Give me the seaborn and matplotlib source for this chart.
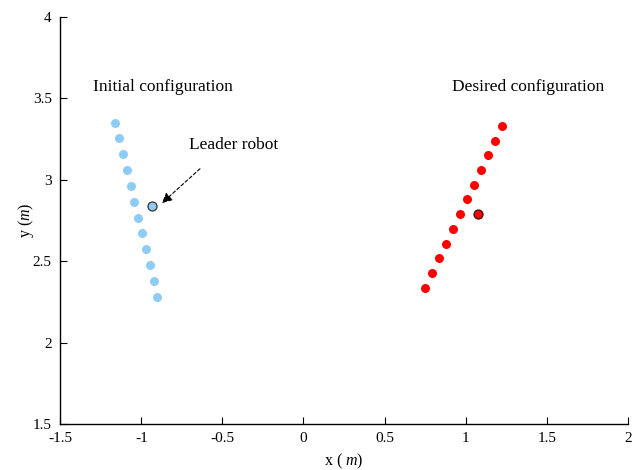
import matplotlib
matplotlib.use("Agg")
import matplotlib.pyplot as plt
import seaborn as sns
import pandas as pd

# Robot positions (metres)
init_x = [-1.159, -1.135, -1.112, -1.087, -1.064, -1.042, -1.018, -0.995, -0.970, -0.947, -0.923, -0.900]
init_y = [3.351, 3.255, 3.158, 3.060, 2.962, 2.866, 2.767, 2.671, 2.573, 2.477, 2.378, 2.282]
leader_init = (-0.933, 2.839)

desired_x = [1.225, 1.182, 1.139, 1.094, 1.053, 1.010, 0.965, 0.921, 0.878, 0.835, 0.792, 0.747]
desired_y = [3.332, 3.240, 3.150, 3.060, 2.970, 2.880, 2.788, 2.700, 2.608, 2.518, 2.428, 2.335]
leader_desired = (1.077, 2.788)

x_ticks = [-1.5, -1, -0.5, 0, 0.5, 1, 1.5, 2]
y_ticks = [1.5, 2, 2.5, 3, 3.5, 4]

sns.set_style("ticks")
plt.rcParams["font.family"] = ["Liberation Serif", "DejaVu Serif"]
plt.rcParams["mathtext.fontset"] = "custom"
plt.rcParams["mathtext.it"] = "Liberation Serif:italic"
plt.rcParams["mathtext.rm"] = "Liberation Serif"
plt.rcParams["axes.unicode_minus"] = False
plt.rcParams["text.color"] = "black"
plt.rcParams["axes.labelcolor"] = "black"

fig = plt.figure(figsize=(6.4, 4.7), dpi=100)
ax = fig.add_axes([0.094, 0.098, 0.887, 0.866])

blue = "#8ECBF5"
red = "#FF0000"

df_init = pd.DataFrame({"x": init_x, "y": init_y})
df_des = pd.DataFrame({"x": desired_x, "y": desired_y})
sns.scatterplot(data=df_init, x="x", y="y", ax=ax, color=blue, s=42, linewidth=0)
sns.scatterplot(data=df_des, x="x", y="y", ax=ax, color=red, s=42, linewidth=0)
sns.scatterplot(x=[leader_init[0]], y=[leader_init[1]], ax=ax, color=blue, s=42,
                edgecolor="#333333", linewidth=0.9)
sns.scatterplot(x=[leader_desired[0]], y=[leader_desired[1]], ax=ax, color=red, s=42,
                edgecolor="#3a1010", linewidth=0.9)

ax.set_xlim(-1.5, 2)
ax.set_ylim(1.5, 4)
ax.set_xticks(x_ticks)
ax.set_xticklabels([f"{t:g}" for t in x_ticks])
ax.set_yticks(y_ticks)
ax.set_yticklabels([f"{t:g}" for t in y_ticks])
ax.tick_params(direction="in", length=5, width=0.8, labelsize=11, colors="black", pad=6)
for s in ["left", "bottom"]:
    ax.spines[s].set_linewidth(1.0)
    ax.spines[s].set_color("black")
sns.despine(ax=ax)

ax.set_xlabel(r"x ( $m$)", fontsize=11.5, labelpad=5)
ax.set_ylabel(r"y ($m$)", fontsize=11.5, labelpad=-2)

ax.text(-0.865, 3.57, "Initial configuration", fontsize=12.5, ha="center", va="center")
ax.text(1.384, 3.57, "Desired configuration", fontsize=12.5, ha="center", va="center")
ax.text(-0.428, 3.214, "Leader robot", fontsize=12.5, ha="center", va="center")
ax.annotate("", xy=(-0.885, 2.845), xytext=(-0.625, 3.079),
            arrowprops=dict(arrowstyle="-|>", linestyle=(0, (3, 2)), color="black",
                            lw=0.8, mutation_scale=15))

fig.savefig("out.png", dpi=100, facecolor="white")
